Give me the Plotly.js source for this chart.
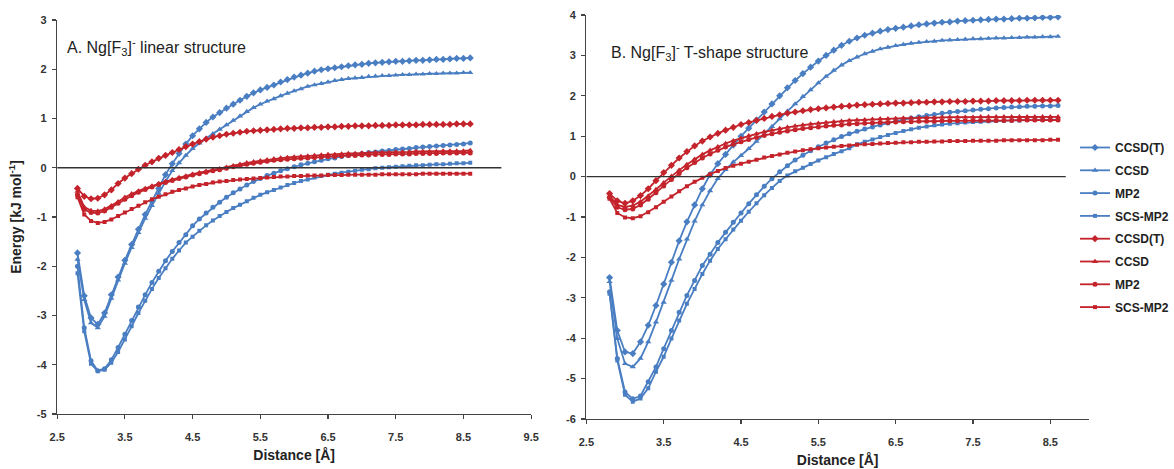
<!DOCTYPE html>
<html>
<head>
<meta charset="utf-8">
<script src="https://cdn.plot.ly/plotly-3.0.1.min.js"></script>
<style>
  html, body { margin: 0; padding: 0; background: #ffffff; }
  #chart { width: 1174px; height: 469px; }
</style>
</head>
<body>
<div id="chart"></div>
<script>
// Ng–F3 interaction energy curves (kJ/mol) versus Ng–F distance (Å)
const distance = [2.8, 2.9, 3.0, 3.1, 3.2, 3.3, 3.4, 3.5, 3.6, 3.7, 3.8, 3.9, 4.0, 4.1, 4.2, 4.3, 4.4, 4.5, 4.6, 4.7,
  4.8, 4.9, 5.0, 5.1, 5.2, 5.3, 5.4, 5.5, 5.6, 5.7, 5.8, 5.9, 6.0, 6.1, 6.2, 6.3, 6.4, 6.5, 6.6, 6.7,
  6.8, 6.9, 7.0, 7.1, 7.2, 7.3, 7.4, 7.5, 7.6, 7.7, 7.8, 7.9, 8.0, 8.1, 8.2, 8.3, 8.4, 8.5, 8.6];

const methods = ['CCSD(T)', 'CCSD', 'MP2', 'SCS-MP2'];

// A. linear structure – blue set
const linBlueCCSDT = [-1.73, -2.6, -3.05, -3.18, -2.95, -2.58, -2.22, -1.88, -1.56, -1.25, -0.95, -0.68, -0.42, -0.14, 0.08, 0.29, 0.48, 0.65, 0.79, 0.92,
  1.03, 1.12, 1.21, 1.29, 1.37, 1.45, 1.52, 1.58, 1.63, 1.68, 1.74, 1.79, 1.84, 1.88, 1.92, 1.96, 1.99, 2.01, 2.03, 2.05,
  2.07, 2.09, 2.1, 2.12, 2.13, 2.14, 2.15, 2.16, 2.16, 2.17, 2.18, 2.18, 2.19, 2.2, 2.2, 2.21, 2.22, 2.22, 2.23];
const linBlueCCSD = [-1.86, -2.68, -3.15, -3.25, -3.02, -2.65, -2.28, -1.94, -1.62, -1.32, -1.03, -0.77, -0.52, -0.28, -0.06, 0.1, 0.25, 0.39, 0.5, 0.6,
  0.69, 0.78, 0.87, 0.96, 1.05, 1.14, 1.22, 1.29, 1.35, 1.4, 1.46, 1.51, 1.56, 1.6, 1.65, 1.68, 1.71, 1.74, 1.77, 1.79,
  1.81, 1.82, 1.83, 1.85, 1.86, 1.87, 1.87, 1.88, 1.89, 1.89, 1.9, 1.9, 1.91, 1.91, 1.92, 1.92, 1.92, 1.93, 1.93];
const linBlueMP2 = [-2.0, -3.25, -3.92, -4.12, -4.08, -3.9, -3.65, -3.38, -3.1, -2.83, -2.58, -2.33, -2.1, -1.89, -1.7, -1.52, -1.36, -1.18, -1.04, -0.92,
  -0.8, -0.7, -0.6, -0.51, -0.43, -0.35, -0.28, -0.22, -0.16, -0.11, -0.06, -0.02, 0.02, 0.06, 0.09, 0.12, 0.15, 0.18, 0.2, 0.23,
  0.25, 0.27, 0.29, 0.31, 0.32, 0.34, 0.35, 0.37, 0.38, 0.39, 0.41, 0.42, 0.43, 0.44, 0.45, 0.46, 0.47, 0.48, 0.5];
const linBlueSCS = [-2.14, -3.32, -3.98, -4.13, -4.1, -3.96, -3.74, -3.49, -3.22, -2.95, -2.7, -2.46, -2.24, -2.04, -1.85, -1.68, -1.52, -1.4, -1.28, -1.17,
  -1.07, -0.98, -0.9, -0.82, -0.75, -0.68, -0.61, -0.55, -0.5, -0.45, -0.4, -0.35, -0.31, -0.27, -0.24, -0.2, -0.17, -0.14, -0.12, -0.1,
  -0.08, -0.06, -0.04, -0.03, -0.01, 0.0, 0.01, 0.02, 0.03, 0.04, 0.05, 0.05, 0.06, 0.07, 0.07, 0.08, 0.09, 0.09, 0.1];

// A. linear structure – red set
const linRedCCSDT = [-0.42, -0.58, -0.63, -0.62, -0.55, -0.45, -0.32, -0.21, -0.12, -0.03, 0.05, 0.12, 0.19, 0.25, 0.31, 0.37, 0.43, 0.48, 0.53, 0.58,
  0.62, 0.65, 0.68, 0.7, 0.72, 0.74, 0.75, 0.76, 0.77, 0.78, 0.79, 0.8, 0.8, 0.81, 0.81, 0.82, 0.82, 0.83, 0.83, 0.84,
  0.84, 0.85, 0.85, 0.85, 0.86, 0.86, 0.86, 0.87, 0.87, 0.87, 0.87, 0.88, 0.88, 0.88, 0.88, 0.88, 0.89, 0.89, 0.89];
const linRedCCSD = [-0.48, -0.8, -0.87, -0.88, -0.84, -0.77, -0.69, -0.6, -0.53, -0.47, -0.42, -0.37, -0.32, -0.28, -0.24, -0.2, -0.17, -0.13, -0.1, -0.07,
  -0.04, -0.02, 0.01, 0.04, 0.07, 0.1, 0.12, 0.14, 0.16, 0.18, 0.2, 0.21, 0.22, 0.23, 0.24, 0.25, 0.26, 0.27, 0.27, 0.28,
  0.29, 0.29, 0.3, 0.3, 0.31, 0.31, 0.31, 0.32, 0.32, 0.32, 0.33, 0.33, 0.33, 0.33, 0.34, 0.34, 0.34, 0.34, 0.35];
const linRedMP2 = [-0.55, -0.85, -0.91, -0.92, -0.88, -0.8, -0.72, -0.64, -0.57, -0.5, -0.44, -0.39, -0.34, -0.3, -0.26, -0.22, -0.19, -0.15, -0.12, -0.09,
  -0.06, -0.04, -0.01, 0.02, 0.04, 0.07, 0.09, 0.11, 0.13, 0.15, 0.16, 0.17, 0.18, 0.19, 0.2, 0.21, 0.22, 0.23, 0.23, 0.24,
  0.25, 0.25, 0.26, 0.26, 0.27, 0.27, 0.27, 0.28, 0.28, 0.28, 0.29, 0.29, 0.29, 0.29, 0.3, 0.3, 0.3, 0.3, 0.3];
const linRedSCS = [-0.6, -0.95, -1.08, -1.12, -1.1, -1.05, -0.98, -0.91, -0.84, -0.77, -0.7, -0.64, -0.59, -0.54, -0.49, -0.45, -0.42, -0.38, -0.35, -0.33,
  -0.3, -0.28, -0.27, -0.25, -0.24, -0.23, -0.22, -0.21, -0.2, -0.19, -0.18, -0.18, -0.17, -0.17, -0.16, -0.16, -0.16, -0.15, -0.15, -0.15,
  -0.14, -0.14, -0.14, -0.14, -0.14, -0.13, -0.13, -0.13, -0.13, -0.13, -0.13, -0.12, -0.12, -0.12, -0.12, -0.12, -0.12, -0.12, -0.12];

// B. T-shape structure – blue set
const tBlueCCSDT = [-2.5, -3.81, -4.34, -4.38, -4.09, -3.68, -3.19, -2.66, -2.12, -1.59, -1.12, -0.7, -0.3, 0.05, 0.32, 0.55, 0.78, 1.0, 1.2, 1.4,
  1.6, 1.8, 2.0, 2.2, 2.38, 2.55, 2.71, 2.86, 3.0, 3.13, 3.25, 3.35, 3.43, 3.5, 3.55, 3.6, 3.64, 3.67, 3.7, 3.73,
  3.76, 3.78, 3.8, 3.82, 3.83, 3.85, 3.86, 3.87, 3.88, 3.89, 3.9, 3.9, 3.91, 3.92, 3.92, 3.93, 3.94, 3.94, 3.95];
const tBlueCCSD = [-2.6, -4.01, -4.63, -4.71, -4.5, -4.09, -3.6, -3.11, -2.57, -2.04, -1.55, -1.1, -0.7, -0.35, -0.05, 0.17, 0.36, 0.52, 0.69, 0.87,
  1.05, 1.24, 1.43, 1.62, 1.8, 1.98, 2.15, 2.32, 2.48, 2.63, 2.76, 2.87, 2.96, 3.04, 3.1, 3.16, 3.2, 3.24, 3.27, 3.3,
  3.32, 3.34, 3.35, 3.37, 3.38, 3.39, 3.4, 3.41, 3.41, 3.42, 3.43, 3.43, 3.44, 3.44, 3.45, 3.45, 3.46, 3.46, 3.47];
const tBlueMP2 = [-2.85, -4.5, -5.33, -5.5, -5.43, -5.08, -4.71, -4.26, -3.81, -3.36, -2.94, -2.57, -2.2, -1.92, -1.63, -1.38, -1.13, -0.9, -0.67, -0.45,
  -0.24, -0.05, 0.12, 0.27, 0.41, 0.53, 0.64, 0.74, 0.83, 0.91, 0.99, 1.06, 1.12, 1.18, 1.23, 1.28, 1.33, 1.37, 1.41, 1.45,
  1.48, 1.51, 1.54, 1.57, 1.59, 1.61, 1.63, 1.65, 1.67, 1.68, 1.7, 1.71, 1.72, 1.73, 1.74, 1.74, 1.75, 1.75, 1.76];
const tBlueSCS = [-2.9, -4.55, -5.4, -5.57, -5.49, -5.24, -4.83, -4.46, -4.01, -3.56, -3.15, -2.78, -2.41, -2.08, -1.79, -1.55, -1.31, -1.09, -0.87, -0.66,
  -0.46, -0.28, -0.11, 0.03, 0.13, 0.22, 0.31, 0.4, 0.48, 0.56, 0.63, 0.7, 0.8, 0.86, 0.92, 0.98, 1.03, 1.08, 1.13, 1.17,
  1.21, 1.24, 1.27, 1.29, 1.31, 1.32, 1.34, 1.35, 1.36, 1.37, 1.38, 1.38, 1.39, 1.39, 1.4, 1.4, 1.4, 1.41, 1.41];

// B. T-shape structure – red set
const tRedCCSDT = [-0.42, -0.6, -0.66, -0.6, -0.47, -0.3, -0.1, 0.1, 0.28, 0.46, 0.62, 0.76, 0.88, 0.98, 1.07, 1.15, 1.22, 1.29, 1.34, 1.39,
  1.44, 1.49, 1.53, 1.57, 1.6, 1.63, 1.66, 1.68, 1.7, 1.72, 1.74, 1.75, 1.77, 1.78, 1.79, 1.8, 1.81, 1.82, 1.82, 1.83,
  1.84, 1.84, 1.85, 1.85, 1.86, 1.86, 1.86, 1.87, 1.87, 1.87, 1.88, 1.88, 1.88, 1.88, 1.89, 1.89, 1.89, 1.89, 1.89];
const tRedCCSD = [-0.48, -0.7, -0.75, -0.72, -0.62, -0.48, -0.32, -0.15, 0.01, 0.16, 0.3, 0.43, 0.55, 0.65, 0.74, 0.82, 0.89, 0.95, 1.01, 1.06,
  1.11, 1.15, 1.19, 1.22, 1.25, 1.28, 1.3, 1.32, 1.34, 1.36, 1.37, 1.39, 1.4, 1.41, 1.42, 1.43, 1.43, 1.44, 1.45, 1.45,
  1.46, 1.46, 1.46, 1.47, 1.47, 1.47, 1.47, 1.47, 1.48, 1.48, 1.48, 1.48, 1.48, 1.48, 1.48, 1.48, 1.48, 1.48, 1.48];
const tRedMP2 = [-0.52, -0.76, -0.82, -0.8, -0.7, -0.56, -0.4, -0.23, -0.07, 0.08, 0.22, 0.35, 0.46, 0.56, 0.65, 0.73, 0.8, 0.86, 0.92, 0.97,
  1.02, 1.06, 1.1, 1.13, 1.16, 1.19, 1.21, 1.23, 1.25, 1.27, 1.28, 1.3, 1.31, 1.32, 1.33, 1.34, 1.34, 1.35, 1.36, 1.36,
  1.37, 1.37, 1.37, 1.38, 1.38, 1.38, 1.38, 1.39, 1.39, 1.39, 1.39, 1.39, 1.39, 1.4, 1.4, 1.4, 1.4, 1.4, 1.4];
const tRedSCS = [-0.55, -0.9, -1.01, -1.03, -0.98, -0.88, -0.76, -0.62, -0.49, -0.36, -0.24, -0.13, -0.03, 0.06, 0.14, 0.21, 0.27, 0.32, 0.37, 0.42,
  0.47, 0.51, 0.55, 0.59, 0.62, 0.65, 0.68, 0.7, 0.72, 0.74, 0.76, 0.77, 0.79, 0.8, 0.81, 0.82, 0.83, 0.84, 0.85, 0.85,
  0.86, 0.86, 0.87, 0.87, 0.88, 0.88, 0.88, 0.89, 0.89, 0.89, 0.89, 0.9, 0.9, 0.9, 0.9, 0.9, 0.9, 0.91, 0.91];

const linearBlue = [linBlueCCSDT, linBlueCCSD, linBlueMP2, linBlueSCS];
const linearRed = [linRedCCSDT, linRedCCSD, linRedMP2, linRedSCS];
const tshapeBlue = [tBlueCCSDT, tBlueCCSD, tBlueMP2, tBlueSCS];
const tshapeRed = [tRedCCSDT, tRedCCSD, tRedMP2, tRedSCS];

const xTicksA = [2.5, 3.5, 4.5, 5.5, 6.5, 7.5, 8.5, 9.5];
const xTicksB = [2.5, 3.5, 4.5, 5.5, 6.5, 7.5, 8.5];

// styling
const BLUE = '#4a7ec2';
const RED = '#c4232b';
const symbols = ['diamond', 'triangle-up', 'circle', 'square'];
const symbolSize = [5.5, 5.5, 5, 4];
const FONT = 'Liberation Sans, Arial, sans-serif';

const traces = [];
function addSet(sets, color, xa, ya, showLegend, tag) {
  sets.forEach((vals, i) => {
    traces.push({
      x: distance, y: vals, xaxis: xa, yaxis: ya,
      type: 'scatter', mode: 'lines+markers',
      name: methods[i],
      legendgroup: tag + i,
      showlegend: showLegend,
      line: { color: color, width: 1.8 },
      marker: { color: color, symbol: symbols[i], size: symbolSize[i] },
      hoverinfo: 'x+y+name'
    });
  });
}
addSet(linearBlue, BLUE, 'x', 'y', false, 'blue');
addSet(linearRed, RED, 'x', 'y', false, 'red');
addSet(tshapeBlue, BLUE, 'x2', 'y2', true, 'blue');
addSet(tshapeRed, RED, 'x2', 'y2', true, 'red');

const tickFont = { family: FONT, size: 11, color: '#333', weight: 'bold' };
const titleFont = { family: FONT, size: 14, color: '#222', weight: 'bold' };

function xAxis(domain, range, ticks, anchor) {
  return {
    domain: domain, range: range, anchor: anchor,
    tickmode: 'array', tickvals: ticks, ticktext: ticks.map(v => v.toFixed(1)),
    ticks: 'outside', ticklen: 4, tickwidth: 1.2, tickcolor: '#444',
    ticklabelstandoff: 8,
    showline: true, linecolor: '#444', linewidth: 1.4,
    showgrid: false, zeroline: false,
    tickfont: tickFont,
    title: { text: 'Distance [Å]', font: titleFont, standoff: 8 }
  };
}
function yAxis(domain, range, anchor, title) {
  const ticks = [];
  for (let v = range[0]; v <= range[1]; v++) ticks.push(v);
  return {
    domain: domain, range: range, anchor: anchor,
    tickmode: 'array', tickvals: ticks, ticktext: ticks.map(v => String(v)),
    ticks: 'outside', ticklen: 4, tickwidth: 1.2, tickcolor: '#444',
    ticklabelstandoff: 3,
    showline: true, linecolor: '#444', linewidth: 1.4,
    showgrid: false, zeroline: false,
    tickfont: tickFont,
    title: title ? { text: title, font: titleFont, standoff: 12 } : { text: '' }
  };
}

const layout = {
  width: 1174, height: 469,
  margin: { l: 0, r: 0, t: 0, b: 0 },
  paper_bgcolor: '#ffffff', plot_bgcolor: '#ffffff',
  showlegend: true,
  xaxis: xAxis([0.0494, 0.4591], [2.5, 9.5], xTicksA, 'y'),
  yaxis: yAxis([0.1173, 0.9574], [-5, 3], 'x', 'Energy [kJ mol<sup>-1</sup>]'),
  xaxis2: xAxis([0.5068, 0.9412], [2.5, 9.0], xTicksB, 'y2'),
  yaxis2: yAxis([0.1066, 0.968], [-6, 4], 'x2', null),
  legend: {
    x: 0.9295, y: 1 - 133 / 469, xanchor: 'left', yanchor: 'top',
    bgcolor: 'rgba(255,255,255,0)',
    font: { family: FONT, size: 12, color: '#222', weight: 'bold' },
    tracegroupgap: 3.8, itemwidth: 30
  },
  shapes: [
    { type: 'line', xref: 'x', yref: 'y', x0: 2.5, x1: 9.06, y0: 0, y1: 0, line: { color: '#333', width: 1.3 } },
    { type: 'line', xref: 'x2', yref: 'y2', x0: 2.5, x1: 8.7, y0: 0, y1: 0, line: { color: '#333', width: 1.3 } }
  ],
  annotations: [
    { xref: 'paper', yref: 'paper', x: 66 / 1174, y: 1 - 47 / 469, xanchor: 'left', yanchor: 'middle', showarrow: false,
      text: 'A. Ng[F<sub>3</sub>]<sup>-</sup> linear structure', font: { family: FONT, size: 16, color: '#222' } },
    { xref: 'paper', yref: 'paper', x: 618 / 1174, y: 1 - 52 / 469, xanchor: 'left', yanchor: 'middle', showarrow: false,
      text: 'B. Ng[F<sub>3</sub>]<sup>-</sup> T-shape structure', font: { family: FONT, size: 16, color: '#222' } }
  ]
};

Plotly.newPlot('chart', traces, layout, { displayModeBar: false, staticPlot: true });
</script>
</body>
</html>
